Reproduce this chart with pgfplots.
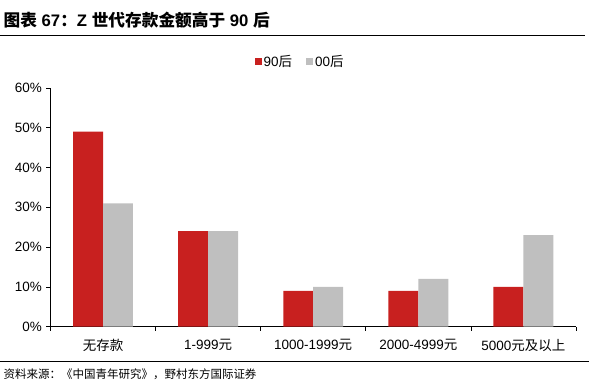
\documentclass[border=0pt]{standalone}
\usepackage{pgfplots}
\pgfplotsset{compat=1.18}
\usepackage{fontspec}
\setmainfont{Liberation Sans}
\newfontfamily\cjk{Noto Sans CJK SC}
\definecolor{myred}{HTML}{C8201F}
\definecolor{mygray}{HTML}{BFBFBF}
\begin{document}
\begin{tikzpicture}[x=1pt,y=1pt]
\path (0,0) rectangle (603,387);
\node[anchor=west, inner sep=0] at (3,367) {\fontsize{16.7}{19}\selectfont\bfseries {\cjk 图表} 67{\cjk ：}Z {\cjk 世代存款金额高于} 90 {\cjk 后}};
\draw[line width=1pt] (0,351) -- (585,351);
\draw[line width=1pt] (0,25) -- (589,25);
\node[anchor=west, inner sep=0] at (3,12) {\fontsize{11.5}{13}\selectfont\cjk 资料来源：《中国青年研究》，野村东方国际证券};
\begin{axis}[
  at={(50pt,60pt)}, anchor=south west,
  scale only axis, width=526pt, height=239pt,
  xmin=-0.5, xmax=4.5, ymin=0, ymax=60,
  axis x line*=bottom, axis y line*=left,
  axis line style={black, line width=0.8pt},
  ybar=0pt, bar width=30pt,
  tick align=outside, major tick length=4pt,
  tick style={black, line width=0.8pt},
  xtick={0,1,2,3,4},
  xtick style={draw=none},
  xticklabels={{\cjk 无存款}, 1-999{\cjk 元}, 1000-1999{\cjk 元}, 2000-4999{\cjk 元}, 5000{\cjk 元及以上}},
  extra x ticks={-0.5,0.5,1.5,2.5,3.5,4.5},
  extra x tick labels={},
  extra x tick style={xtick style={draw=black, line width=0.8pt}},
  ytick={0,10,20,30,40,50,60},
  yticklabels={0\%,10\%,20\%,30\%,40\%,50\%,60\%},
  ticklabel style={font=\fontsize{13.5}{15}\selectfont},
  yticklabel style={xshift=-1pt},
  xticklabel style={yshift=-5pt},
  legend style={at={(rel axis cs:0.475,1.109)}, anchor=center, draw=none, fill=none,
    legend columns=2, font=\fontsize{13.5}{15}\selectfont,
    /tikz/every even column/.append style={column sep=12pt}},
  legend image code/.code={\fill[#1] (0pt,-3.5pt) rectangle (7pt,3.5pt);},
]
\addplot[fill=myred, draw=none] coordinates {(0,49) (1,24) (2,9) (3,9) (4,10)};
\addplot[fill=mygray, draw=none] coordinates {(0,31) (1,24) (2,10) (3,12) (4,23)};
\legend{90{\cjk 后}, 00{\cjk 后}}
\end{axis}
\end{tikzpicture}
\end{document}
